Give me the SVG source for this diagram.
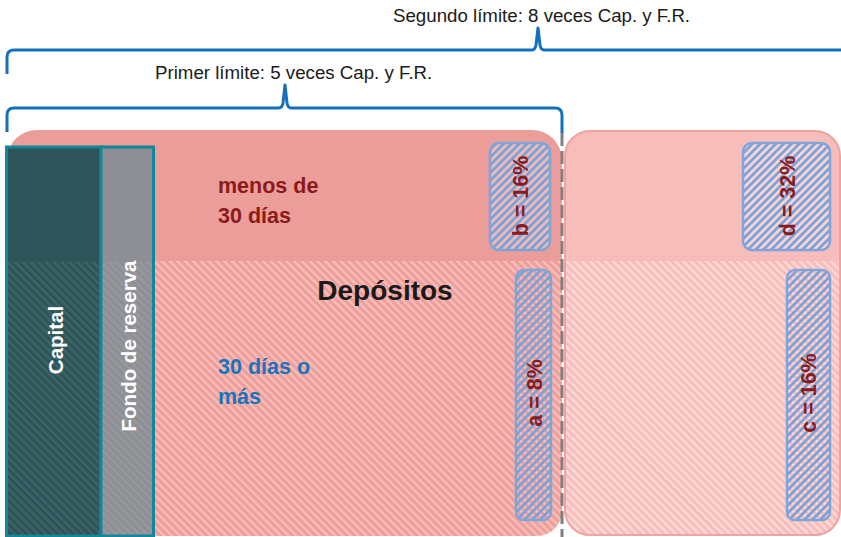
<svg xmlns="http://www.w3.org/2000/svg" width="841" height="537" viewBox="0 0 841 537">
  <style>
    .lbl { font-family: "Liberation Sans", Arial, sans-serif; }
    .brace-text { font-size: 18.7px; fill: #1a1a1a; }
    .white-v { font-size: 20.5px; font-weight: bold; fill: #ffffff; text-anchor: middle; dominant-baseline: central; }
    .pct { font-size: 21.5px; font-weight: bold; fill: #8b1a1a; text-anchor: middle; dominant-baseline: central; }
    .red { font-size: 21.5px; font-weight: bold; fill: #8b1a1a; }
    .blue { font-size: 21.5px; font-weight: bold; fill: #1874bb; }
    .brace { fill: none; stroke: #1470bc; stroke-width: 3; stroke-linejoin: round; }
    .pbox { stroke: #7ea5d9; stroke-width: 2.5; }
  </style>
  <defs>
    <pattern id="hatchL" patternUnits="userSpaceOnUse" width="5.5" height="5.5" patternTransform="rotate(-45)">
      <rect width="5.5" height="5.5" fill="#ee9e9a"/>
      <rect width="2.6" height="5.5" fill="#f7bcb8"/>
    </pattern>
    <pattern id="hatchR" patternUnits="userSpaceOnUse" width="5.5" height="5.5" patternTransform="rotate(-45)">
      <rect width="5.5" height="5.5" fill="#f7bcba"/>
      <rect width="2.6" height="5.5" fill="#fcd8d6"/>
    </pattern>
    <pattern id="hatchDark" patternUnits="userSpaceOnUse" width="5.5" height="5.5" patternTransform="rotate(-45)">
      <rect width="2.6" height="5.5" fill="#ffffff" fill-opacity="0.08"/>
    </pattern>
    <pattern id="hatchBlue" patternUnits="userSpaceOnUse" width="5.5" height="5.5" patternTransform="rotate(45)">
      <rect width="2.7" height="5.5" fill="#78a2da"/>
    </pattern>
    <clipPath id="clipL">
      <path d="M7,537 L7,160 A30,30 0 0 1 37,130 L532,130 A30,30 0 0 1 562,160 L562,511 A25,25 0 0 1 537,536 L7,536 Z"/>
    </clipPath>
    <clipPath id="clipR">
      <rect x="565" y="131" width="275" height="404" rx="25" ry="25"/>
    </clipPath>
  </defs>

  <rect width="841" height="537" fill="#ffffff"/>

  <g id="deposits-left">
    <g clip-path="url(#clipL)">
      <rect x="0" y="125" width="570" height="137" fill="#ea9d99"/>
      <rect x="0" y="261" width="570" height="280" fill="url(#hatchL)"/>
    </g>
  </g>

  <g id="deposits-right">
    <g clip-path="url(#clipR)">
      <rect x="560" y="125" width="290" height="137" fill="#f7bdbb"/>
      <rect x="560" y="261" width="290" height="280" fill="url(#hatchR)"/>
    </g>
    <rect x="565" y="131" width="275" height="404" rx="25" ry="25" fill="none" stroke="#efa3a1" stroke-width="2"/>
  </g>

  <g id="capital">
    <rect x="6.5" y="147" width="94.5" height="389" fill="#2c5459"/>
    <rect x="6.5" y="262" width="94.5" height="274" fill="url(#hatchDark)"/>
    <rect x="6.5" y="147" width="94.5" height="389" fill="none" stroke="#12869a" stroke-width="3"/>
    <text class="lbl white-v" transform="translate(55,340) rotate(-90)">Capital</text>
  </g>

  <g id="fondo">
    <rect x="101" y="147" width="52.5" height="389" fill="#8d8f94"/>
    <rect x="101" y="262" width="52.5" height="274" fill="url(#hatchDark)"/>
    <rect x="101" y="147" width="52.5" height="389" fill="none" stroke="#12869a" stroke-width="3"/>
    <text class="lbl white-v" transform="translate(128,346) rotate(-90)">Fondo de reserva</text>
  </g>

  <g id="labels">
    <text class="lbl red" x="218" y="193">menos de</text>
    <text class="lbl red" x="218" y="223">30 días</text>
    <text class="lbl" x="385" y="300" font-size="28" font-weight="bold" fill="#1a1a1a" text-anchor="middle">Depósitos</text>
    <text class="lbl blue" x="218" y="374">30 días o</text>
    <text class="lbl blue" x="218" y="404">más</text>
  </g>

  <g id="box-b">
    <rect x="490" y="143" width="60" height="107" rx="9" fill="#ffffff" fill-opacity="0.3"/>
    <rect class="pbox" x="490" y="143" width="60" height="107" rx="9" fill="url(#hatchBlue)"/>
    <text class="lbl pct" transform="translate(521,196) rotate(-90)">b = 16%</text>
  </g>
  <g id="box-a">
    <rect class="pbox" x="516" y="270" width="35" height="250" rx="8" fill="url(#hatchBlue)"/>
    <text class="lbl pct" transform="translate(535,393) rotate(-90)">a = 8%</text>
  </g>
  <g id="box-d">
    <rect x="743" y="143" width="87" height="107" rx="9" fill="#ffffff" fill-opacity="0.35"/>
    <rect class="pbox" x="743" y="143" width="87" height="107" rx="9" fill="url(#hatchBlue)"/>
    <text class="lbl pct" transform="translate(788,196) rotate(-90)">d = 32%</text>
  </g>
  <g id="box-c">
    <rect class="pbox" x="787" y="270" width="43" height="250" rx="8" fill="url(#hatchBlue)"/>
    <text class="lbl pct" transform="translate(809,393) rotate(-90)">c = 16%</text>
  </g>

  <g id="connectors">
    <path class="brace" d="M7,74 L7,57 Q7,50 14,50 L532,50 Q535,50 536,45 L538,28 L540,45 Q541,50 544,50 L842,50"/>
    <path class="brace" d="M7,132 L7,115 Q7,108 14,108 L279,108 Q282,108 283,103 L285,85 L287,103 Q288,108 291,108 L555,108 Q562,108 562,115 L562,133"/>
    <line x1="562" y1="133" x2="562" y2="537" stroke="#7f7f7f" stroke-width="3" stroke-dasharray="13 5"/>
  </g>

  <g id="brace-labels">
    <text class="lbl brace-text" x="393" y="22">Segundo límite: 8 veces Cap. y F.R.</text>
    <text class="lbl brace-text" x="155" y="79">Primer límite: 5 veces Cap. y F.R.</text>
  </g>
</svg>
